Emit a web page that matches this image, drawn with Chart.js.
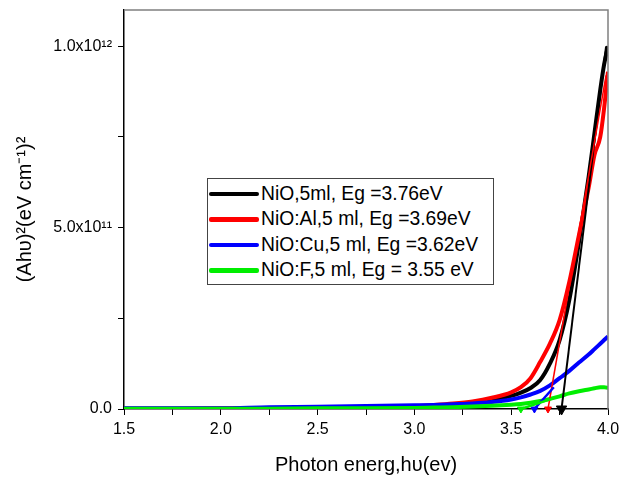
<!DOCTYPE html>
<html>
<head>
<meta charset="utf-8">
<script src="https://cdn.jsdelivr.net/npm/chart.js@4/dist/chart.umd.min.js"></script>
<style>
    body { margin: 0; background: #fff; }
    #wrap { position: relative; width: 621px; height: 480px; }
    #legende {
        position: absolute; left: 207px; top: 178px; width: 287px; height: 107px;
        border: 1px solid #444; background: #fff; box-sizing: border-box;
        font-family: "Liberation Sans", Arial, sans-serif; font-size: 19.3px; color: #000;
        padding-top: 2px;
    }
    .ligne { height: 25.5px; display: flex; align-items: center; white-space: nowrap; }
    .trait { width: 50px; height: 4.5px; margin: 0 2px 0 1px; border-radius: 2px; }
</style>
</head>
<body>
<div id="wrap">
    <canvas id="gapGraph" width="621" height="480"></canvas>
    <div id="legende"></div>
</div>
<script>
// Données (énergie en eV, (Ahv)^2 en eV^2 cm^-2)
const energie = [1.5, 1.75, 2.0, 2.25, 2.5, 2.75, 3.0, 3.1, 3.2, 3.3, 3.4, 3.5, 3.55, 3.6, 3.65, 3.7, 3.75, 3.8, 3.85, 3.9, 3.93, 3.96, 3.98, 4.0];
const nio   = [0.001e12, 0.001e12, 0.001e12, 0.002e12, 0.002e12, 0.003e12, 0.006e12, 0.008e12, 0.011e12, 0.016e12, 0.024e12, 0.036e12, 0.045e12, 0.058e12, 0.08e12, 0.125e12, 0.19e12, 0.3e12, 0.46e12, 0.64e12, 0.76e12, 0.88e12, 0.95e12, 1.0e12];
const nioAl = [0.001e12, 0.001e12, 0.002e12, 0.002e12, 0.003e12, 0.004e12, 0.008e12, 0.011e12, 0.015e12, 0.021e12, 0.031e12, 0.046e12, 0.06e12, 0.085e12, 0.13e12, 0.18e12, 0.245e12, 0.35e12, 0.48e12, 0.61e12, 0.7e12, 0.75e12, 0.83e12, 0.93e12];
const nioCu = [0.002e12, 0.002e12, 0.002e12, 0.005e12, 0.006e12, 0.008e12, 0.01e12, 0.011e12, 0.013e12, 0.015e12, 0.019e12, 0.026e12, 0.032e12, 0.04e12, 0.05e12, 0.065e12, 0.085e12, 0.105e12, 0.128e12, 0.15e12, 0.165e12, 0.18e12, 0.19e12, 0.2e12];
const nioF  = [0.001e12, 0.001e12, 0.001e12, 0.001e12, 0.002e12, 0.002e12, 0.003e12, 0.004e12, 0.005e12, 0.007e12, 0.009e12, 0.012e12, 0.014e12, 0.017e12, 0.022e12, 0.028e12, 0.035e12, 0.043e12, 0.049e12, 0.054e12, 0.057e12, 0.06e12, 0.06e12, 0.058e12];

// Droites d'extrapolation (gap) : [x début, x fin], [y début, y fin]
const fitNioX = [3.76, 3.99],   fitNioY = [0, 1.0e12];
const fitAlX  = [3.69, 3.99],   fitAlY  = [0, 0.92e12];
const fitCuX  = [3.62, 3.72],   fitCuY  = [0, 0.06e12];
const fitFX   = [3.55, 3.72],   fitFY   = [0, 0.03e12];

// graduations
const xTicks = [1.5, 1.75, 2.0, 2.25, 2.5, 2.75, 3.0, 3.25, 3.5, 3.75, 4.0];
const xLabels = ['1.5', '', '2.0', '', '2.5', '', '3.0', '', '3.5', '', '4.0'];
const yTicks = [0, 2.5e11, 5e11, 7.5e11, 1e12];
const yLabels = ['0.0', '', '5.0x10\u00b9\u00b9', '', '1.0x10\u00b9\u00b2'];

const etiquettes = ['NiO,5ml, Eg =3.76eV', 'NiO:Al,5 ml, Eg =3.69eV', 'NiO:Cu,5 ml, Eg =3.62eV', 'NiO:F,5 ml, Eg = 3.55 eV'];
const couleurs = ['#000000', '#ff0000', '#0000ff', '#00ee00'];

function points(xs, ys) {
    return xs.map((x, i) => ({ x: x, y: ys[i] }));
}

function courbe(i, ys) {
    return {
        label: etiquettes[i],
        data: points(energie, ys),
        borderColor: couleurs[i],
        borderWidth: 4,
        pointRadius: 0,
        cubicInterpolationMode: 'monotone',
        order: 4 - i + 4
    };
}

function droite(i, xs, ys, largeur, fleche) {
    return {
        label: '',
        data: points(xs, ys),
        borderColor: couleurs[i],
        backgroundColor: couleurs[i],
        borderWidth: largeur,
        pointStyle: 'triangle',
        rotation: 180,
        pointRadius: [fleche, 0],
        pointBorderWidth: 1,
        clip: false,
        order: 4 - i
    };
}

// cadre gris en haut et à droite
const cadre = {
    id: 'cadre',
    afterDraw(chart) {
        const a = chart.chartArea;
        const ctx = chart.ctx;
        ctx.save();
        ctx.strokeStyle = '#808080';
        ctx.lineWidth = 1.5;
        ctx.beginPath();
        ctx.moveTo(a.left, a.top);
        ctx.lineTo(a.right, a.top);
        ctx.lineTo(a.right, a.bottom);
        ctx.stroke();
        ctx.restore();
    }
};

const ctx = document.getElementById('gapGraph').getContext('2d');
new Chart(ctx, {
    type: 'line',
    data: {
        datasets: [
            courbe(0, nio), courbe(1, nioAl), courbe(2, nioCu), courbe(3, nioF),
            droite(0, fitNioX, fitNioY, 2, 6),
            droite(1, fitAlX, fitAlY, 1.5, 4),
            droite(2, fitCuX, fitCuY, 2.5, 4),
            droite(3, fitFX, fitFY, 2.5, 4)
        ]
    },
    options: {
        responsive: false,
        devicePixelRatio: 1,
        animation: false,
        layout: { padding: { left: 0, right: 13, top: 10, bottom: 0 } },
        scales: {
            x: {
                type: 'linear',
                min: 1.5,
                max: 4.0,
                afterBuildTicks: function(scale) { scale.ticks = xTicks.map(v => ({ value: v })); },
                afterFit: function(scale) {
                    scale.height = 71;
                    scale.paddingLeft = 0;
                    scale.paddingRight = 0;
                },
                border: { color: '#000', width: 1.5 },
                grid: { drawOnChartArea: false, color: '#000', tickLength: 6 },
                ticks: {
                    padding: 5,
                    color: '#000',
                    font: { family: 'Liberation Sans', size: 16 },
                    maxRotation: 0,
                    autoSkip: false,
                    callback: function(v, i) { return xLabels[i]; }
                },
                title: {
                    display: true,
                    text: 'Photon energ,h\u03c5(ev)',
                    color: '#000',
                    font: { family: 'Liberation Sans', size: 20 },
                    padding: { top: 0, bottom: 3 }
                }
            },
            y: {
                min: 0,
                max: 1.1e12,
                afterBuildTicks: function(scale) { scale.ticks = yTicks.map(v => ({ value: v })); },
                afterFit: function(scale) {
                    scale.width = 124;
                    scale.paddingTop = 0;
                    scale.paddingBottom = 0;
                },
                border: { color: '#000', width: 1.5 },
                grid: { drawOnChartArea: false, color: '#000', tickLength: 6 },
                ticks: {
                    padding: 6,
                    color: '#000',
                    autoSkip: false,
                    font: { family: 'Liberation Sans', size: 16 },
                    callback: function(v, i) { return yLabels[i]; }
                },
                title: {
                    display: true,
                    text: '(Ah\u03c5)\u00b2(eV cm\u207b\u00b9)\u00b2',
                    color: '#000',
                    font: { family: 'Liberation Sans', size: 20 },
                    padding: { top: 13, bottom: 0 }
                }
            }
        },
        plugins: {
            legend: { display: false },
            tooltip: { enabled: false }
        }
    },
    plugins: [cadre]
});

// légende en boîte, placée dans la zone du graphique
const legende = document.getElementById('legende');
etiquettes.forEach((txt, i) => {
    const ligne = document.createElement('div');
    ligne.className = 'ligne';
    ligne.innerHTML = `<span class="trait" style="background:${couleurs[i]}"></span><span>${txt}</span>`;
    legende.appendChild(ligne);
});
</script>
</body>
</html>
